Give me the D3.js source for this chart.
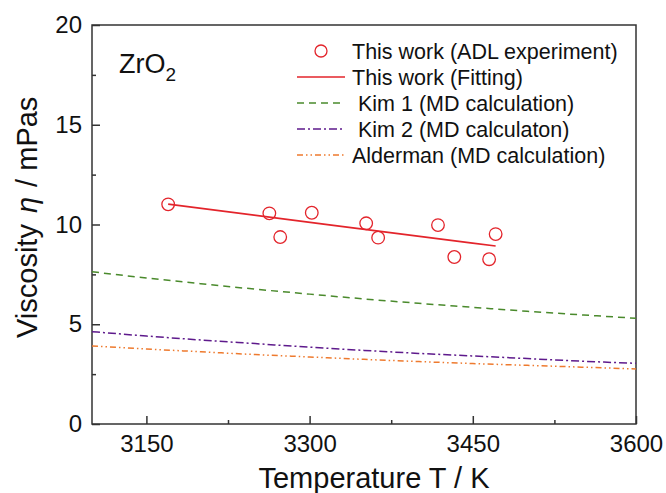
<!DOCTYPE html>
<html>
<head>
<meta charset="utf-8">
<script src="https://cdn.jsdelivr.net/npm/d3@7"></script>
<style>
  body { margin: 0; background: #fff; }
  svg { display: block; font-family: 'Liberation Sans', Arial, sans-serif; }
</style>
</head>
<body>
<div class="container"></div>
<script>
// measured points (ADL experiment)
const expT = [3170, 3263, 3273, 3302, 3352, 3363, 3418, 3433, 3465, 3471];
const expEta = [11.01, 10.56, 9.37, 10.59, 10.06, 9.34, 9.97, 8.37, 8.26, 9.52];

// fitted line
const fitT = [3170, 3320, 3471];
const fitEta = [11.02, 9.97, 8.92];

// MD calculations
const calcT = [3100, 3150, 3200, 3250, 3300, 3350, 3400, 3450, 3500, 3550, 3600];
const kim1 = [7.63, 7.32, 7.03, 6.76, 6.51, 6.27, 6.05, 5.85, 5.65, 5.47, 5.30];
const kim2 = [4.63, 4.41, 4.21, 4.03, 3.85, 3.69, 3.54, 3.41, 3.28, 3.15, 3.04];
const alderman = [3.91, 3.76, 3.62, 3.48, 3.36, 3.24, 3.13, 3.03, 2.94, 2.85, 2.76];

const xTicks = [3150, 3300, 3450, 3600];
const xMinor = [3225, 3375, 3525];
const yTicks = [0, 5, 10, 15, 20];
const yMinor = [2.5, 7.5, 12.5, 17.5];

const legendLabels = [
  'This work (ADL experiment)',
  'This work (Fitting)',
  ' Kim 1 (MD calculation)',
  ' Kim 2 (MD calculaton)',
  'Alderman (MD calculation)',
];

const width = 666;
const height = 493;
const plot = { left: 92, right: 636, top: 25, bottom: 424 };

const red = '#e3242b';
const green = '#4a8a2c';
const purple = '#5e1a8c';
const orange = '#ee7a2e';

const svg = d3
  .select('.container')
  .append('svg')
  .attr('width', width)
  .attr('height', height);

const x = d3.scaleLinear().domain([3100, 3600]).range([plot.left, plot.right]);
const y = d3.scaleLinear().domain([0, 20]).range([plot.bottom, plot.top]);

// axes (ticks pointing inward)
svg
  .append('g')
  .attr('transform', `translate(0,${plot.bottom})`)
  .call(
    d3
      .axisBottom(x)
      .tickValues(xTicks)
      .tickFormat(d3.format('d'))
      .tickSize(-8)
      .tickPadding(11)
  )
  .call((g) => g.select('.domain').remove())
  .attr('font-size', 24)
  .attr('font-family', null);

svg
  .append('g')
  .attr('transform', `translate(0,${plot.bottom})`)
  .call(d3.axisBottom(x).tickValues(xMinor).tickSize(-4).tickFormat(''))
  .call((g) => g.select('.domain').remove());

svg
  .append('g')
  .attr('transform', `translate(${plot.left},0)`)
  .call(d3.axisLeft(y).tickValues(yTicks).tickSize(-8).tickPadding(10))
  .call((g) => g.select('.domain').remove())
  .attr('font-size', 24)
  .attr('font-family', null);

svg
  .append('g')
  .attr('transform', `translate(${plot.left},0)`)
  .call(d3.axisLeft(y).tickValues(yMinor).tickSize(-4).tickFormat(''))
  .call((g) => g.select('.domain').remove());

svg.selectAll('.tick line').attr('stroke', '#333').attr('stroke-width', 1.5);
svg.selectAll('.tick text').attr('fill', '#111');

// frame
svg
  .append('rect')
  .attr('x', plot.left)
  .attr('y', plot.top)
  .attr('width', plot.right - plot.left)
  .attr('height', plot.bottom - plot.top)
  .attr('fill', 'none')
  .attr('stroke', '#333')
  .attr('stroke-width', 1.5);

// curves
const line = d3
  .line()
  .x((d) => x(d[0]))
  .y((d) => y(d[1]))
  .curve(d3.curveMonotoneX);

const curves = [
  { vals: kim1, color: green, dash: '7,5' },
  { vals: kim2, color: purple, dash: '8,3,2,3' },
  { vals: alderman, color: orange, dash: '6,3,1.5,3,1.5,3' },
];

curves.forEach((c) => {
  svg
    .append('path')
    .datum(calcT.map((t, i) => [t, c.vals[i]]))
    .attr('d', line)
    .attr('fill', 'none')
    .attr('stroke', c.color)
    .attr('stroke-width', 1.5)
    .attr('stroke-dasharray', c.dash);
});

svg
  .append('path')
  .datum(fitT.map((t, i) => [t, fitEta[i]]))
  .attr('d', line)
  .attr('fill', 'none')
  .attr('stroke', red)
  .attr('stroke-width', 1.6);

svg
  .append('g')
  .selectAll('circle')
  .data(expT.map((t, i) => [t, expEta[i]]))
  .enter()
  .append('circle')
  .attr('cx', (d) => x(d[0]))
  .attr('cy', (d) => y(d[1]))
  .attr('r', 6.3)
  .attr('fill', 'none')
  .attr('stroke', red)
  .attr('stroke-width', 1.3);

// legend
const legend = svg.append('g').attr('transform', 'translate(297,51)');
const legendStyles = [
  { type: 'circle', color: red },
  { type: 'line', color: red, dash: null },
  { type: 'line', color: green, dash: '7,5' },
  { type: 'line', color: purple, dash: '8,3,2,3' },
  { type: 'line', color: orange, dash: '6,3,1.5,3,1.5,3' },
];

legendLabels.forEach((label, i) => {
  const row = legend.append('g').attr('transform', `translate(0,${i * 26})`);
  const s = legendStyles[i];
  if (s.type === 'circle') {
    row
      .append('circle')
      .attr('cx', 24)
      .attr('cy', 0)
      .attr('r', 6)
      .attr('fill', 'none')
      .attr('stroke', s.color)
      .attr('stroke-width', 1.3);
  } else {
    row
      .append('line')
      .attr('x1', 0)
      .attr('x2', 48)
      .attr('stroke', s.color)
      .attr('stroke-width', 1.5)
      .attr('stroke-dasharray', s.dash);
  }
  row
    .append('text')
    .attr('x', 55)
    .attr('y', 7.5)
    .attr('font-size', 21.5)
    .attr('fill', '#111')
    .style('white-space', 'pre')
    .text(label);
});

// ZrO2 label
const zr = svg
  .append('text')
  .attr('x', 119)
  .attr('y', 73)
  .attr('font-size', 27)
  .attr('fill', '#111');
zr.append('tspan').text('ZrO');
zr.append('tspan').attr('font-size', 19).attr('dy', 8).text('2');

// axis titles
svg
  .append('text')
  .attr('x', 374)
  .attr('y', 488)
  .attr('text-anchor', 'middle')
  .attr('font-size', 29)
  .attr('fill', '#111')
  .text('Temperature T / K');

const yt = svg
  .append('text')
  .attr('transform', 'translate(37,338) rotate(-90)')
  .attr('font-size', 29)
  .attr('fill', '#111')
  .style('white-space', 'pre');
yt.append('tspan').text('Viscosity ');
yt.append('tspan').attr('font-style', 'italic').attr('dx', 3).text('η');
yt.append('tspan').attr('dx', 2).text(' / ');
yt.append('tspan').text('mPas');
</script>
</body>
</html>
